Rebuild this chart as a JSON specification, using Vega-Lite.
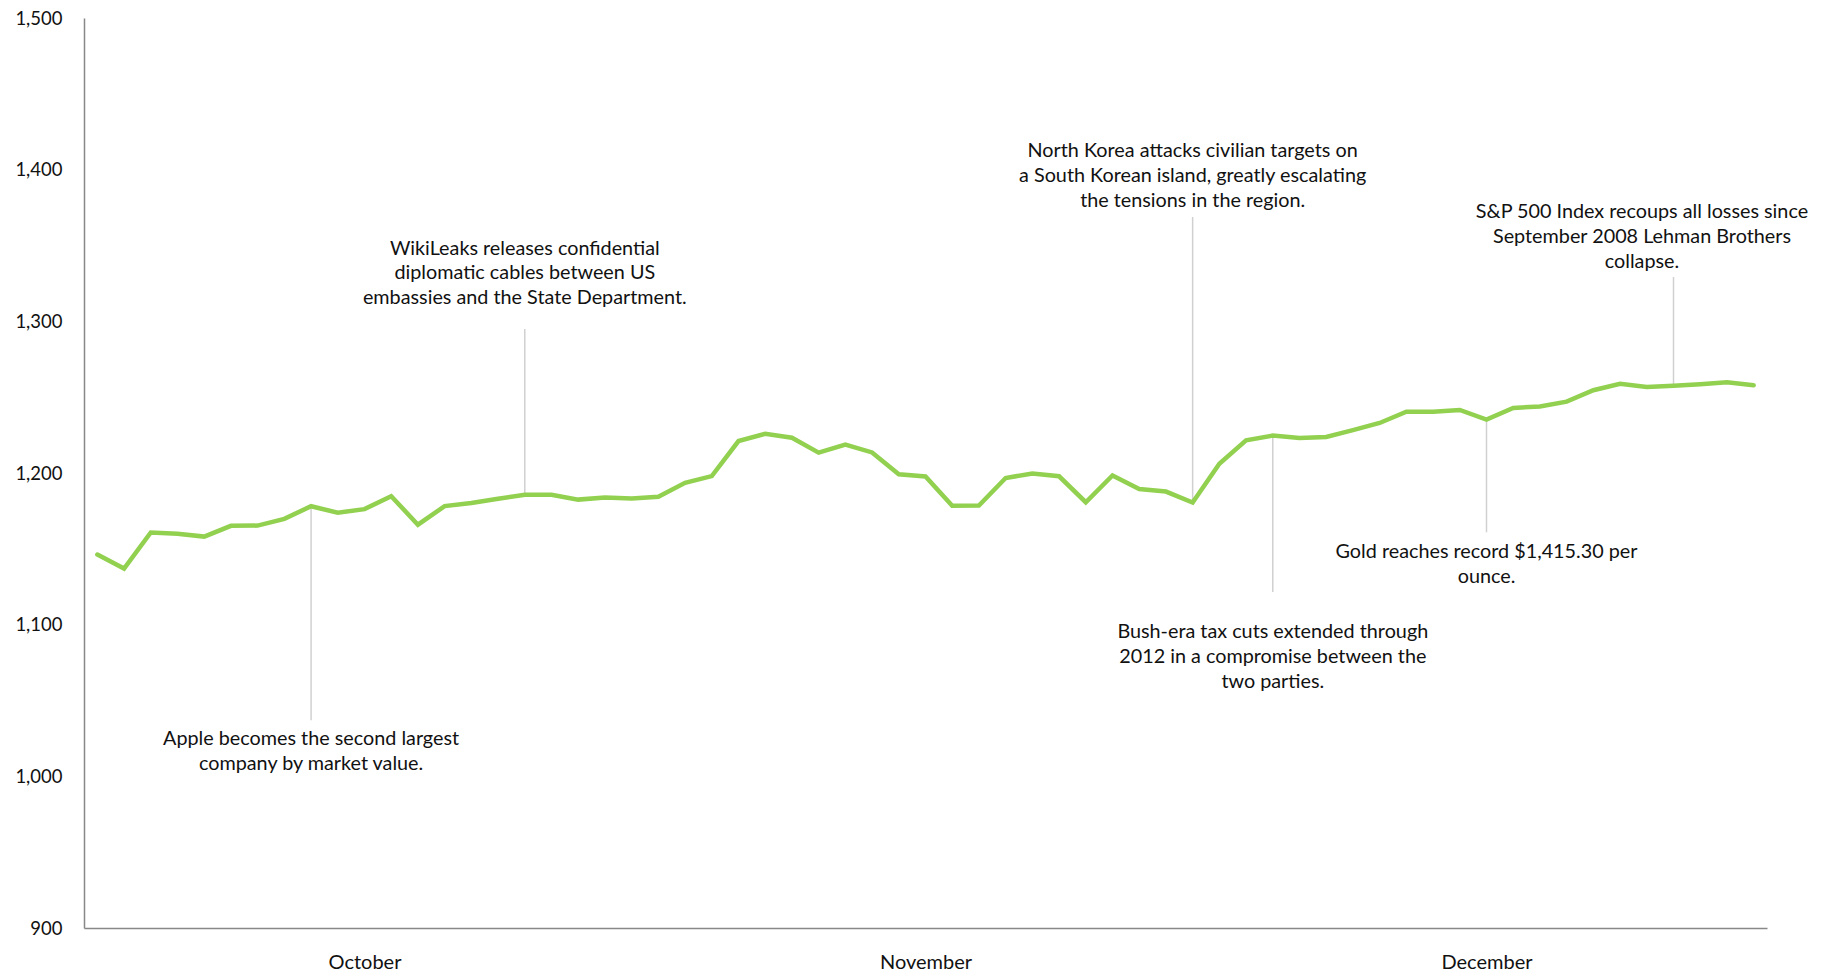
{
  "$schema": "https://vega.github.io/schema/vega-lite/v6.json",
  "width": 1683,
  "height": 910,
  "autosize": {"type": "none"},
  "padding": {"left": 84, "top": 18, "right": 62, "bottom": 47},
  "background": "white",
  "config": {
    "view": {"stroke": null},
    "font": "Lato",
    "axis": {"grid": false, "ticks": false, "domainColor": "#888888", "domainWidth": 1.5, "labelColor": "#111111", "labelFont": "Lato", "title": null}
  },
  "datasets": {
    "sp": [
      {"idx": 0, "date": "2010-10-01", "close": 1146.24},
      {"idx": 1, "date": "2010-10-04", "close": 1137.03},
      {"idx": 2, "date": "2010-10-05", "close": 1160.75},
      {"idx": 3, "date": "2010-10-06", "close": 1159.97},
      {"idx": 4, "date": "2010-10-07", "close": 1158.06},
      {"idx": 5, "date": "2010-10-08", "close": 1165.15},
      {"idx": 6, "date": "2010-10-11", "close": 1165.32},
      {"idx": 7, "date": "2010-10-12", "close": 1169.77},
      {"idx": 8, "date": "2010-10-13", "close": 1178.10},
      {"idx": 9, "date": "2010-10-14", "close": 1173.81},
      {"idx": 10, "date": "2010-10-15", "close": 1176.19},
      {"idx": 11, "date": "2010-10-18", "close": 1184.71},
      {"idx": 12, "date": "2010-10-19", "close": 1165.90},
      {"idx": 13, "date": "2010-10-20", "close": 1178.17},
      {"idx": 14, "date": "2010-10-21", "close": 1180.26},
      {"idx": 15, "date": "2010-10-22", "close": 1183.08},
      {"idx": 16, "date": "2010-10-25", "close": 1185.62},
      {"idx": 17, "date": "2010-10-26", "close": 1185.64},
      {"idx": 18, "date": "2010-10-27", "close": 1182.45},
      {"idx": 19, "date": "2010-10-28", "close": 1183.78},
      {"idx": 20, "date": "2010-10-29", "close": 1183.26},
      {"idx": 21, "date": "2010-11-01", "close": 1184.38},
      {"idx": 22, "date": "2010-11-02", "close": 1193.57},
      {"idx": 23, "date": "2010-11-03", "close": 1197.96},
      {"idx": 24, "date": "2010-11-04", "close": 1221.06},
      {"idx": 25, "date": "2010-11-05", "close": 1225.85},
      {"idx": 26, "date": "2010-11-08", "close": 1223.25},
      {"idx": 27, "date": "2010-11-09", "close": 1213.40},
      {"idx": 28, "date": "2010-11-10", "close": 1218.71},
      {"idx": 29, "date": "2010-11-11", "close": 1213.54},
      {"idx": 30, "date": "2010-11-12", "close": 1199.21},
      {"idx": 31, "date": "2010-11-15", "close": 1197.75},
      {"idx": 32, "date": "2010-11-16", "close": 1178.34},
      {"idx": 33, "date": "2010-11-17", "close": 1178.59},
      {"idx": 34, "date": "2010-11-18", "close": 1196.69},
      {"idx": 35, "date": "2010-11-19", "close": 1199.73},
      {"idx": 36, "date": "2010-11-22", "close": 1197.84},
      {"idx": 37, "date": "2010-11-23", "close": 1180.73},
      {"idx": 38, "date": "2010-11-24", "close": 1198.35},
      {"idx": 39, "date": "2010-11-26", "close": 1189.40},
      {"idx": 40, "date": "2010-11-29", "close": 1187.76},
      {"idx": 41, "date": "2010-11-30", "close": 1180.55},
      {"idx": 42, "date": "2010-12-01", "close": 1206.07},
      {"idx": 43, "date": "2010-12-02", "close": 1221.53},
      {"idx": 44, "date": "2010-12-03", "close": 1224.71},
      {"idx": 45, "date": "2010-12-06", "close": 1223.12},
      {"idx": 46, "date": "2010-12-07", "close": 1223.75},
      {"idx": 47, "date": "2010-12-08", "close": 1228.28},
      {"idx": 48, "date": "2010-12-09", "close": 1233.00},
      {"idx": 49, "date": "2010-12-10", "close": 1240.40},
      {"idx": 50, "date": "2010-12-13", "close": 1240.46},
      {"idx": 51, "date": "2010-12-14", "close": 1241.59},
      {"idx": 52, "date": "2010-12-15", "close": 1235.23},
      {"idx": 53, "date": "2010-12-16", "close": 1242.87},
      {"idx": 54, "date": "2010-12-17", "close": 1243.91},
      {"idx": 55, "date": "2010-12-20", "close": 1247.08},
      {"idx": 56, "date": "2010-12-21", "close": 1254.60},
      {"idx": 57, "date": "2010-12-22", "close": 1258.84},
      {"idx": 58, "date": "2010-12-23", "close": 1256.77},
      {"idx": 59, "date": "2010-12-27", "close": 1257.54},
      {"idx": 60, "date": "2010-12-28", "close": 1258.51},
      {"idx": 61, "date": "2010-12-29", "close": 1259.78},
      {"idx": 62, "date": "2010-12-30", "close": 1257.88}
    ],
    "notes": [
      {"idx": 8, "point": 1178.10, "end": 1037, "labelIdx": 8, "labelValue": 1020.7, "text": ["Apple becomes the second largest", "company by market value."]},
      {"idx": 16, "point": 1185.62, "end": 1295, "labelIdx": 16, "labelValue": 1344, "text": ["WikiLeaks releases confidential", "diplomatic cables between US", "embassies and the State Department."]},
      {"idx": 41, "point": 1180.55, "end": 1368.8, "labelIdx": 41, "labelValue": 1408.3, "text": ["North Korea attacks civilian targets on", "a South Korean island, greatly escalating", "the tensions in the region."]},
      {"idx": 44, "point": 1224.71, "end": 1121.5, "labelIdx": 44, "labelValue": 1091.2, "text": ["Bush-era tax cuts extended through", "2012 in a compromise  between the", "two parties."]},
      {"idx": 52, "point": 1235.23, "end": 1160.9, "labelIdx": 52, "labelValue": 1143.9, "text": ["Gold reaches record $1,415.30 per", "ounce."]},
      {"idx": 59, "point": 1257.54, "end": 1329.2, "labelIdx": 57.82, "labelValue": 1368, "text": ["S&P 500 Index recoups all losses since", "September 2008 Lehman Brothers", "collapse."]}
    ]
  },
  "layer": [
    {
      "data": {"name": "notes"},
      "mark": {"type": "rule", "color": "#d0d0d0", "strokeWidth": 1.5},
      "encoding": {
        "x": {"field": "idx", "type": "quantitative", "scale": {"domain": [-0.5, 62.5], "nice": false, "zero": false}},
        "y": {"field": "point", "type": "quantitative", "scale": {"domain": [900, 1500], "nice": false, "zero": false}},
        "y2": {"field": "end"}
      }
    },
    {
      "data": {"name": "sp"},
      "mark": {"type": "line", "color": "#92d050", "strokeWidth": 4.5, "strokeCap": "round"},
      "encoding": {
        "x": {"field": "idx", "type": "quantitative", "scale": {"domain": [-0.5, 62.5], "nice": false, "zero": false},
          "axis": {"values": [10, 31, 52], "labelExpr": "datum.value == 10 ? 'October' : datum.value == 31 ? 'November' : 'December'", "labelFontSize": 20, "labelPadding": 24, "labelBaseline": "top"}},
        "y": {"field": "close", "type": "quantitative", "scale": {"domain": [900, 1500], "nice": false, "zero": false},
          "axis": {"values": [900, 1000, 1100, 1200, 1300, 1400, 1500], "format": ",d", "labelFontSize": 18.5, "labelPadding": 22}}
      }
    },
    {
      "data": {"name": "notes"},
      "mark": {"type": "text", "align": "center", "baseline": "alphabetic", "fontSize": 19.8, "lineHeight": 24.8, "color": "#111111", "font": "Lato"},
      "encoding": {
        "x": {"field": "labelIdx", "type": "quantitative"},
        "y": {"field": "labelValue", "type": "quantitative"},
        "text": {"field": "text"}
      }
    }
  ]
}
